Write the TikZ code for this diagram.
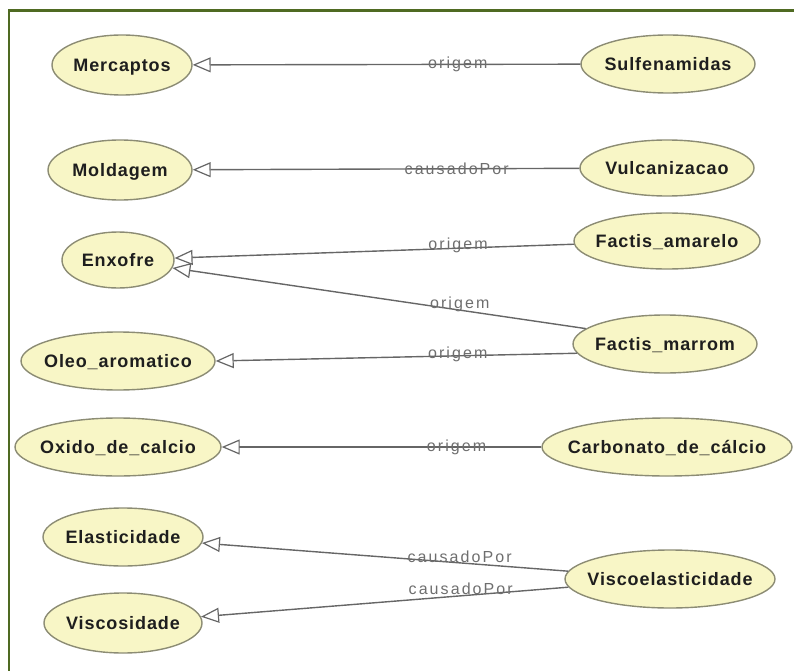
\documentclass[tikz,border=0pt]{standalone}
\usepackage{fontspec}
\setmainfont{Liberation Sans}
\newfontfamily\nodefont[LetterSpace=5]{Liberation Sans}
\newfontfamily\lblfont[LetterSpace=13]{Liberation Sans}
\usetikzlibrary{shapes.geometric,arrows.meta}

\definecolor{framegreen}{HTML}{4F6A22}
\definecolor{classfill}{HTML}{F8F6C6}
\definecolor{classline}{HTML}{8C8C74}
\definecolor{edgegray}{HTML}{666666}
\definecolor{lblgray}{HTML}{6E6E6E}
\definecolor{txtdark}{HTML}{1E1E1E}

% centred text that does not enlarge the ellipse
\newcommand\classtext[1]{\makebox[0pt]{\raisebox{-0.36em}[0pt][0pt]{#1}}}

\tikzset{
  frame/.style={draw=framegreen, line width=2.6pt},
  cls/.style n args={2}{ellipse, draw=classline, fill=classfill, line width=1.4pt,
    inner sep=0pt, minimum width=#1, minimum height=#2,
    font=\nodefont\bfseries\fontsize{18}{20}\selectfont, text=txtdark},
  rel/.style={draw=edgegray, line width=1.4pt,
    -{Triangle[length=18pt,width=15pt,fill=white,line width=1.2pt]}},
  lbl/.style={anchor=base, inner sep=0pt, text=lblgray,
    font=\lblfont\fontsize{16}{18}\selectfont},
}

\begin{document}
\begin{tikzpicture}[x=1pt, y=-1pt]
  \path[use as bounding box] (0,0) rectangle (794,671);
  \draw[frame] (9,672) -- (9,10.5) -- (795,10.5);

  % classes
  \node[cls={140pt}{60pt}] (Me) at (122,65)  {\classtext{Mercaptos}};
  \node[cls={174pt}{58pt}] (Su) at (668,64)  {\classtext{Sulfenamidas}};
  \node[cls={144pt}{60pt}] (Mo) at (120,170) {\classtext{Moldagem}};
  \node[cls={174pt}{56pt}] (Vu) at (667,168) {\classtext{Vulcanizacao}};
  \node[cls={112pt}{56pt}] (En) at (118,260) {\classtext{Enxofre}};
  \node[cls={186pt}{56pt}] (Fa) at (667,241) {\classtext{Factis\_amarelo}};
  \node[cls={184pt}{58pt}] (Fm) at (665,344) {\classtext{Factis\_marrom}};
  \node[cls={194pt}{58pt}] (Ol) at (118,361) {\classtext{Oleo\_aromatico}};
  \node[cls={206pt}{58pt}] (Ox) at (118,447) {\classtext{Oxido\_de\_calcio}};
  \node[cls={250pt}{58pt}] (Ca) at (667,447) {\classtext{Carbonato\_de\_cálcio}};
  \node[cls={160pt}{58pt}] (El) at (123,537) {\classtext{Elasticidade}};
  \node[cls={158pt}{60pt}] (Vs) at (123,623) {\classtext{Viscosidade}};
  \node[cls={210pt}{58pt}] (Vi) at (670,579) {\classtext{Viscoelasticidade}};

  % relations, each label sitting on its line near the source class
  \draw[rel] (Su) -- node[lbl, pos=0.316, yshift=-4pt] (l1) {origem} (Me);
  \draw[rel] (Vu) -- node[lbl, pos=0.317, yshift=-6pt] (l2) {causadoPor} (Mo);
  \draw[rel] (Fa) -- node[lbl, pos=0.29, yshift=-1pt] (l3) {origem} (En);
  \draw[rel] (Fm.169) -- node[lbl, pos=0.305, yshift=2pt] (l4) {origem} (En);
  \draw[rel] (Fm.186) -- node[lbl, pos=0.33, yshift=-3pt] (l5) {origem} (Ol.east);
  \draw[rel] (Ca) -- node[lbl, pos=0.265, yshift=-4pt] (l6) {origem} (Ox);
  \draw[rel] (Vi) -- node[lbl, pos=0.296, yshift=0pt] (l7) {causadoPor} (El);
  \draw[rel] (Vi) -- node[lbl, pos=0.293, yshift=1pt] (l8) {causadoPor} (Vs);
\end{tikzpicture}
\end{document}
